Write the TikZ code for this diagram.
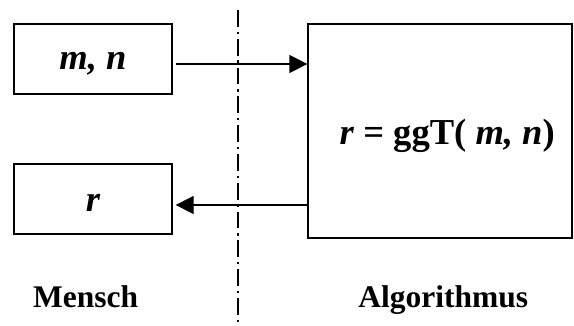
\documentclass[tikz,border=0pt]{standalone}
\usepackage{fontspec}
\setmainfont{Liberation Serif}
\usetikzlibrary{arrows.meta, positioning}

\begin{document}
\begin{tikzpicture}[
    >={Triangle[length=4.5mm, width=4.5mm]},
    kasten/.style={draw, line width=0.9pt, inner sep=0pt, text depth=0pt},
    pfeil/.style={->, line width=0.9pt},
    boxtext/.style={font=\fontsize{26}{30}\selectfont\bfseries},
    seite/.style={font=\fontsize{22.4}{26}\selectfont\bfseries, anchor=base},
  ]
  \useasboundingbox (0,0) rectangle (14.35,8.15);

  % ===== Trennlinie =====
  \draw[line width=0.9pt, dash pattern=on 4.2mm off 1.2mm on 0.6mm off 1.2mm]
    (5.95,7.9) -- (5.95,0);

  % ===== Kaesten =====
  \node[kasten, minimum width=3.95cm, minimum height=1.75cm, boxtext, text height=0.55cm]
    (eingabe) at (2.325,6.675) {\itshape m, n};
  \node[kasten, minimum width=3.95cm, minimum height=1.75cm, boxtext, text height=0.65cm]
    (ausgabe) at (2.325,3.175) {\itshape r};
  \node[kasten, minimum width=6.6cm, minimum height=5.35cm]
    (algo) at (11.0,4.875) {};
  \node[boxtext, anchor=base] (formel) at (11.18,4.525)
    {\textit{r} = ggT( \textit{m, n})};

  % ===== Pfeile =====
  \draw[pfeil, shorten <=0.075cm]
    ([yshift=-0.125cm]eingabe.east) -- ([yshift=-0.125cm]eingabe.east -| algo.west);
  \draw[pfeil, shorten >=0.075cm]
    ([yshift=-0.15cm]ausgabe.east -| algo.west) -- ([yshift=-0.15cm]ausgabe.east);

  % ===== Beschriftung =====
  \node[seite] (mensch) at (2.14,0.45) {Mensch};
  \node[seite] (algorithmus) at (11.08,0.45) {Algorithmus};

\end{tikzpicture}
\end{document}
